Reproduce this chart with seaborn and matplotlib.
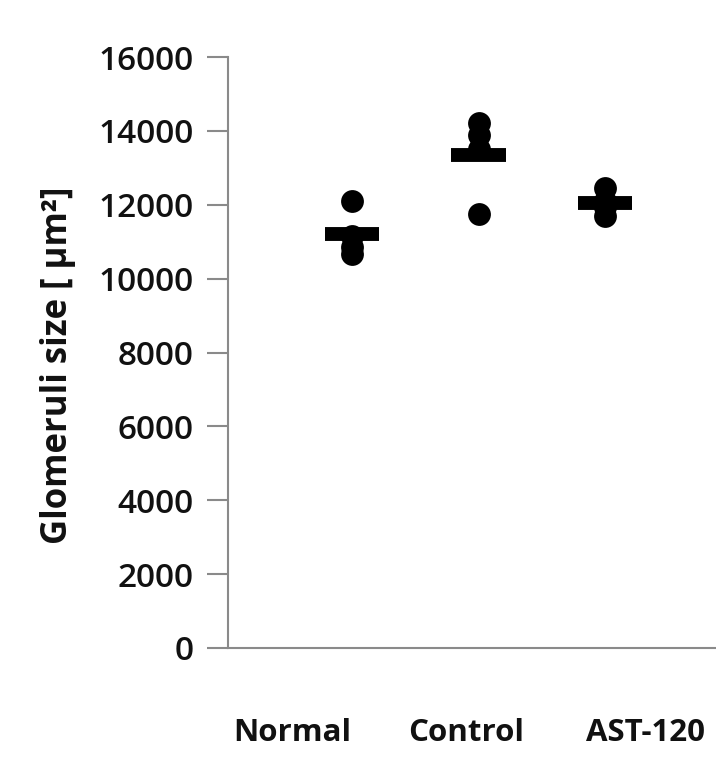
import numpy as np
import pandas as pd
import matplotlib
matplotlib.use("Agg")
import matplotlib.pyplot as plt
import seaborn as sns

# Glomerular area per animal (µm²)
groups = ["Normal", "Control", "AST-120"]
normal = [12100, 11150, 10850, 10680]
control = [14200, 13900, 13500, 11750]
ast120 = [12450, 12100, 11950, 11700]
y_ticks = [0, 2000, 4000, 6000, 8000, 10000, 12000, 14000, 16000]

values = [normal, control, ast120]
df = pd.DataFrame({
    "pos": np.concatenate([[i] * len(v) for i, v in enumerate(values)]),
    "group": np.concatenate([[g] * len(v) for g, v in zip(groups, values)]),
    "size": np.concatenate(values),
})
means = df.groupby("pos")["size"].mean()

sns.set_theme(style="white")
plt.rcParams["font.family"] = ["Open Sans", "DejaVu Sans"]

fig = plt.figure(figsize=(7.16, 7.57), dpi=100)
W, H = 716, 757
ax = fig.add_axes([228 / W, 1 - 648 / H, (716 - 228) / W, (648 - 57) / H])

sns.scatterplot(data=df, x="pos", y="size", color="black", s=270,
                edgecolor="black", linewidth=0, legend=False, ax=ax, zorder=3)
ax.hlines(means.values, means.index - 0.215, means.index + 0.215,
          colors="black", linewidth=10, capstyle="butt", zorder=4)

unit = 126.5
ax.set_xlim((228 - 352) / unit, (716 - 352) / unit)
ax.set_ylim(0, 16000)
ax.set_yticks(y_ticks)
ax.set_yticklabels([str(t) for t in y_ticks], fontsize=24, color="#111111",
                   fontweight=600)
ax.set_xticks([])
ax.set_xlabel("")
ax.set_ylabel("Glomeruli size [ µm²]", fontsize=25, fontweight="bold",
              color="#111111")
ax.yaxis.set_label_coords(-(228 - 76) / (716 - 228), (648 - 365) / (648 - 57))

for side in ["top", "right"]:
    ax.spines[side].set_visible(False)
for side in ["left", "bottom"]:
    ax.spines[side].set_color("#8a8a8a")
    ax.spines[side].set_linewidth(1.5)
ax.tick_params(axis="y", direction="out", length=15, width=1.5,
               color="#8a8a8a", pad=10, left=True)

label_x = [292, 466, 646]
for g, lx in zip(groups, label_x):
    fig.text(lx / W, 1 - 733 / H, g, ha="center", va="center",
             fontsize=22.5, fontweight="bold", color="#111111")

fig.savefig("out.png", dpi=100)
